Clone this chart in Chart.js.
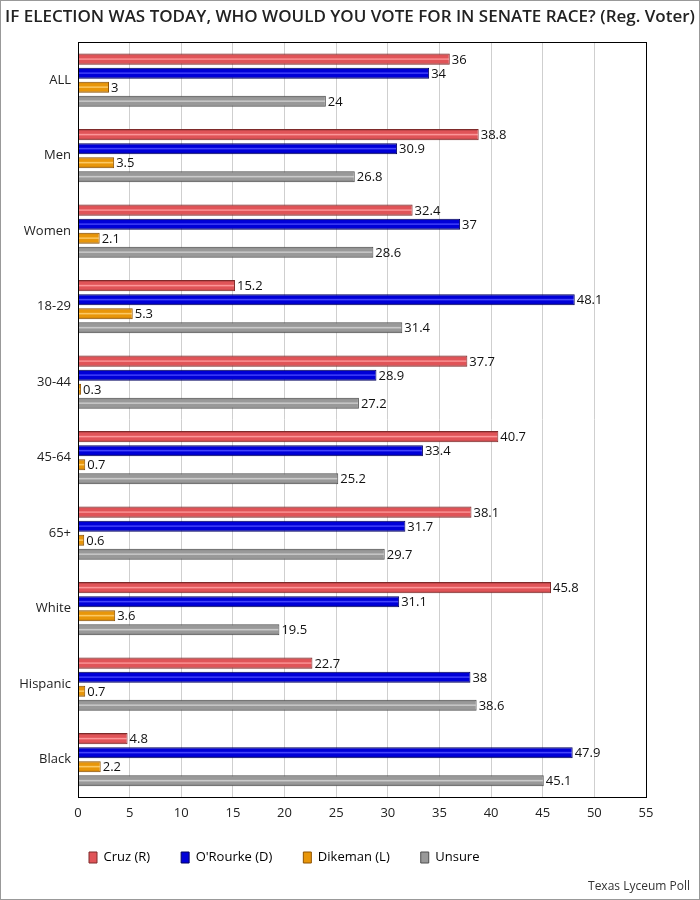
<!DOCTYPE html>
<html>
<head>
<meta charset="utf-8">
<script src="https://cdn.jsdelivr.net/npm/chart.js@4"></script>
<style>
  html, body { margin: 0; padding: 0; background: #fff; }
  #wrap { width: 700px; height: 900px; box-sizing: border-box; border: 1px solid #999; position: relative; }
</style>
</head>
<body>
<div id="wrap"><canvas id="senateChart" width="698" height="898"></canvas></div>
<script>
const groups = ['ALL', 'Men', 'Women', '18-29', '30-44', '45-64', '65+', 'White', 'Hispanic', 'Black'];
const cruz = [36, 38.8, 32.4, 15.2, 37.7, 40.7, 38.1, 45.8, 22.7, 4.8];
const orourke = [34, 30.9, 37, 48.1, 28.9, 33.4, 31.7, 31.1, 38, 47.9];
const dikeman = [3, 3.5, 2.1, 5.3, 0.3, 0.7, 0.6, 3.6, 0.7, 2.2];
const unsure = [24, 26.8, 28.6, 31.4, 27.2, 25.2, 29.7, 19.5, 38.6, 45.1];
const seriesNames = ['Cruz (R)', "O'Rourke (D)", 'Dikeman (L)', 'Unsure'];

// edge, body, highlight
const shades = [
    ['#7e2a2a', '#e05458', '#ff9c9e'],
    ['#00005e', '#0000d8', '#4c4cff'],
    ['#8e5200', '#e8960a', '#ffd070'],
    ['#4e4e4e', '#999999', '#d2d2d2']
];

const FONT = "'Open Sans', 'Noto Sans', sans-serif";

function glossy(ctx, top, h, s) {
    const g = ctx.createLinearGradient(0, top, 0, top + h);
    g.addColorStop(0, s[0]);
    g.addColorStop(0.18, s[1]);
    g.addColorStop(0.38, s[1]);
    g.addColorStop(0.5, s[2]);
    g.addColorStop(0.62, s[1]);
    g.addColorStop(0.82, s[1]);
    g.addColorStop(1, s[0]);
    return g;
}

const barLook = {
    id: 'barLook',
    afterLayout(chart) {
        // title centred on the whole canvas, legend nudged to match the reference
        chart.titleBlock.right += 53;
        const lg = chart.legend;
        lg.left -= 20;
        lg.right -= 20;
        lg.top -= 9;
        lg.bottom -= 9;
    },
    beforeDatasetsDraw(chart) {
        const ctx = chart.ctx;
        chart.data.datasets.forEach((ds, di) => {
            chart.getDatasetMeta(di).data.forEach(el => {
                el.options.backgroundColor = glossy(ctx, el.y - el.height / 2, el.height, shades[di]);
            });
        });
    },
    afterDatasetsDraw(chart) {
        const ctx = chart.ctx;
        const a = chart.chartArea;
        ctx.save();
        ctx.font = '13px ' + FONT;
        ctx.fillStyle = '#111';
        ctx.textBaseline = 'middle';
        ctx.textAlign = 'left';
        chart.data.datasets.forEach((ds, di) => {
            chart.getDatasetMeta(di).data.forEach((el, i) => {
                ctx.fillText(String(ds.data[i]), el.x + 2, el.y + 1);
            });
        });
        ctx.strokeStyle = '#000';
        ctx.lineWidth = 1;
        ctx.strokeRect(Math.round(a.left) + 0.5, Math.round(a.top) + 0.5, Math.round(a.right - a.left), Math.round(a.bottom - a.top));
        ctx.restore();
    },
    afterDraw(chart) {
        const ctx = chart.ctx;
        ctx.save();
        ctx.font = '12px ' + FONT;
        ctx.fillStyle = '#333';
        ctx.textAlign = 'right';
        ctx.textBaseline = 'middle';
        ctx.fillText('Texas Lyceum Poll', chart.width - 9, chart.height - 12);
        ctx.restore();
    }
};

const all = [cruz, orourke, dikeman, unsure];

new Chart(document.getElementById('senateChart'), {
    type: 'bar',
    data: {
        labels: groups,
        datasets: all.map((vals, i) => ({
            label: seriesNames[i],
            data: vals,
            backgroundColor: () => shades[i][1],
            borderColor: shades[i][0],
            borderWidth: 1,
            categoryPercentage: 0.743,
            barPercentage: 0.786
        }))
    },
    options: {
        indexAxis: 'y',
        responsive: false,
        animation: false,
        layout: { padding: { left: 0, right: 53, top: 0, bottom: 16 } },
        scales: {
            x: {
                min: 0,
                max: 55,
                ticks: { stepSize: 5, color: '#222', font: { size: 13, family: FONT }, padding: 8 },
                grid: { color: '#cfcfcf', drawTicks: false },
                border: { color: '#000' }
            },
            y: {
                ticks: { color: '#222', font: { size: 13, family: FONT }, padding: 7 },
                grid: { display: false, drawTicks: false },
                border: { color: '#000' },
                afterFit(s) { s.width = 77; }
            }
        },
        plugins: {
            title: {
                display: true,
                text: 'IF ELECTION WAS TODAY, WHO WOULD YOU VOTE FOR IN SENATE RACE? (Reg. Voter)',
                color: '#222',
                font: { size: 17, weight: '600', family: FONT },
                padding: { top: 6, bottom: 15 }
            },
            legend: {
                position: 'bottom',
                align: 'start',
                fullSize: false,
                labels: {
                    boxWidth: 8,
                    boxHeight: 11,
                    padding: 31,
                    color: '#222',
                    font: { size: 13, family: FONT },
                    generateLabels(chart) {
                        return chart.data.datasets.map((ds, i) => ({
                            text: ds.label,
                            fillStyle: shades[i][1],
                            strokeStyle: shades[i][0],
                            lineWidth: 1,
                            datasetIndex: i
                        }));
                    }
                }
            },
            tooltip: { enabled: false }
        }
    },
    plugins: [barLook]
});
</script>
</body>
</html>
